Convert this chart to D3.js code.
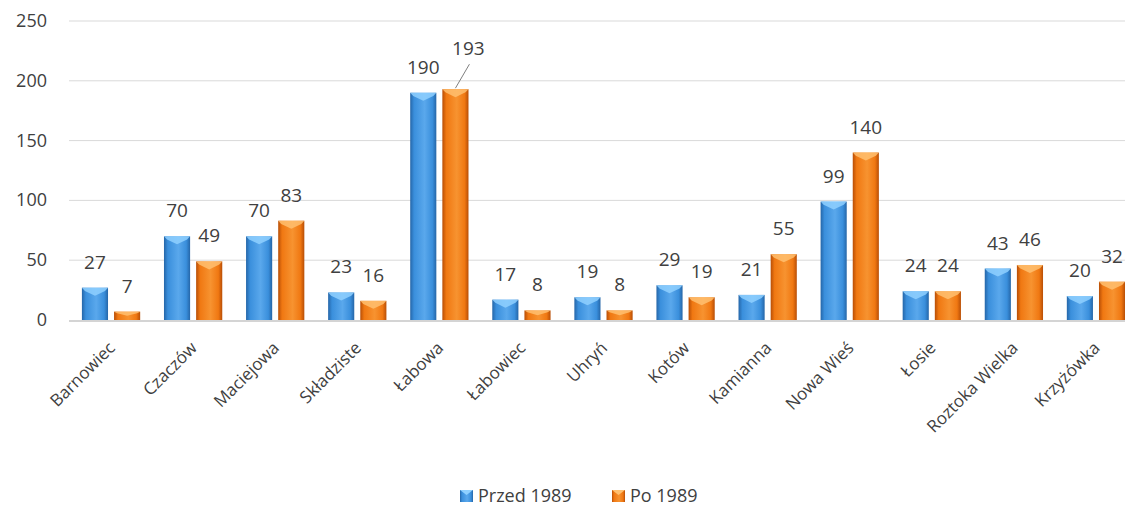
<!DOCTYPE html>
<html>
<head>
<meta charset="utf-8">
<script src="https://cdn.jsdelivr.net/npm/d3@7"></script>
<style>
  body { margin: 0; background: #fff; }
  text { font-family: "Open Sans", sans-serif; fill: #404040; }
</style>
</head>
<body>
<div id="chart"></div>
<script>
var villages = ['Barnowiec', 'Czaczów', 'Maciejowa', 'Składziste', 'Łabowa', 'Łabowiec',
                'Uhryń', 'Kotów', 'Kamianna', 'Nowa Wieś', 'Łosie', 'Roztoka Wielka', 'Krzyżówka'];
var before1989 = [27, 70, 70, 23, 190, 17, 19, 29, 21, 99, 24, 43, 20];
var after1989 = [7, 49, 83, 16, 193, 8, 8, 19, 55, 140, 24, 46, 32];
var seriesNames = ['Przed 1989', 'Po 1989'];
var yTicks = [0, 50, 100, 150, 200, 250];

var width = 1125, height = 509;

var svg = d3.select('#chart')
  .append('svg')
    .attr('width', width)
    .attr('height', height);
var defs = svg.append('defs');

var palettes = [
  { id: 'gBlue', dark: '#2566a8', mid: '#3a8fdc', light: '#5aa8ec', top: '#8fd0ff' },
  { id: 'gOrange', dark: '#b84e06', mid: '#f07812', light: '#f79330', top: '#ffc070' }
];
palettes.forEach(function (p) {
  var lg = defs.append('linearGradient').attr('id', p.id)
    .attr('x1', 0).attr('x2', 1).attr('y1', 0).attr('y2', 0);
  lg.append('stop').attr('offset', '0%').attr('stop-color', p.dark);
  lg.append('stop').attr('offset', '15%').attr('stop-color', p.mid);
  lg.append('stop').attr('offset', '55%').attr('stop-color', p.light);
  lg.append('stop').attr('offset', '85%').attr('stop-color', p.mid);
  lg.append('stop').attr('offset', '100%').attr('stop-color', p.dark);
});

var x = d3.scaleBand()
  .domain(villages)
  .range([70, 1137])
  .paddingInner(0.29)
  .paddingOuter(0.145);
var xs = d3.scaleBand()
  .domain([0, 1])
  .range([0, x.bandwidth()])
  .paddingInner(0.1875);
var y = d3.scaleLinear()
  .domain([0, 250])
  .range([320, 21]);

// grid
svg.append('g')
  .selectAll('line')
  .data(yTicks.slice(1))
  .enter().append('line')
    .attr('x1', 69).attr('x2', width)
    .attr('y1', function (d) { return y(d); })
    .attr('y2', function (d) { return y(d); })
    .attr('stroke', '#d9d9d9')
    .attr('stroke-width', 1);

svg.append('line')
  .attr('x1', 69).attr('x2', width)
  .attr('y1', y(0) + 1).attr('y2', y(0) + 1)
  .attr('stroke', '#d4d4d4')
  .attr('stroke-width', 2);

svg.append('g')
  .selectAll('text')
  .data(yTicks)
  .enter().append('text')
    .attr('x', 47)
    .attr('y', function (d) { return y(d) + 6; })
    .attr('text-anchor', 'end')
    .style('font-size', '18px')
    .text(function (d) { return d; });

var rows = villages.map(function (v, i) {
  return { name: v, values: [before1989[i], after1989[i]] };
});

var groups = svg.selectAll('g.village')
  .data(rows)
  .enter().append('g')
    .classed('village', true)
    .attr('transform', function (d) { return 'translate(' + x(d.name) + ',0)'; });

var bars = groups.selectAll('g.bar')
  .data(function (d) { return d.values.map(function (v, k) { return { v: v, k: k, name: d.name }; }); })
  .enter().append('g')
    .classed('bar', true);

bars.append('rect')
  .attr('x', function (d) { return xs(d.k); })
  .attr('y', function (d) { return y(d.v); })
  .attr('width', xs.bandwidth())
  .attr('height', function (d) { return y(0) - y(d.v); })
  .style('fill', function (d) { return 'url(#' + palettes[d.k].id + ')'; });

// bevelled top
bars.append('path')
  .attr('d', function (d) {
    var x0 = xs(d.k), w = xs.bandwidth(), t = y(d.v);
    var h = Math.min(8, (y(0) - t) / 2);
    return 'M' + x0 + ',' + t + 'L' + (x0 + w) + ',' + t +
           'L' + (x0 + w - 3) + ',' + (t + h * 0.4) +
           'L' + (x0 + w / 2) + ',' + (t + h) +
           'L' + (x0 + 3) + ',' + (t + h * 0.4) + 'Z';
  })
  .style('fill', function (d) { return palettes[d.k].top; })
  .style('fill-opacity', 0.85);

// data labels
bars.append('text')
  .attr('x', function (d) {
    var cx = xs(d.k) + xs.bandwidth() / 2;
    if (d.name === 'Łabowa' && d.k === 1) cx += 13;
    return cx;
  })
  .attr('y', function (d) {
    if (d.name === 'Łabowa' && d.k === 1) return y(d.v) - 34;
    return y(d.v) - 19;
  })
  .attr('text-anchor', 'middle')
  .style('font-size', '19px')
  .text(function (d) { return d.v; });

// leader line for 193
groups.filter(function (d) { return d.name === 'Łabowa'; })
  .append('line')
    .attr('x1', xs(1) + xs.bandwidth() / 2)
    .attr('y1', function (d) { return y(d.values[1]) - 1; })
    .attr('x2', xs(1) + xs.bandwidth() / 2 + 14)
    .attr('y2', function (d) { return y(d.values[1]) - 25; })
    .attr('stroke', '#7f7f7f')
    .attr('stroke-width', 1);

// category labels
svg.append('g')
  .selectAll('text')
  .data(villages)
  .enter().append('text')
    .attr('transform', function (d) {
      return 'translate(' + (x(d) + x.bandwidth() / 2 + 5) + ',349) rotate(-45)';
    })
    .attr('text-anchor', 'end')
    .style('font-size', '17px')
    .text(function (d) { return d; });

// legend
var legend = svg.append('g').attr('transform', 'translate(460,502)');
var litem = legend.selectAll('g')
  .data(seriesNames)
  .enter().append('g')
    .attr('transform', function (d, i) { return 'translate(' + (i * 152) + ',0)'; });
litem.append('rect')
  .attr('x', 0).attr('y', -12)
  .attr('width', 13).attr('height', 12)
  .style('fill', function (d, i) { return 'url(#' + palettes[i].id + ')'; });
litem.append('path')
  .attr('d', 'M0,-12L13,-12L6.5,-7Z')
  .style('fill', function (d, i) { return palettes[i].top; });
litem.append('text')
  .attr('x', 18).attr('y', 0)
  .style('font-size', '18px')
  .text(function (d) { return d; });
</script>
</body>
</html>
